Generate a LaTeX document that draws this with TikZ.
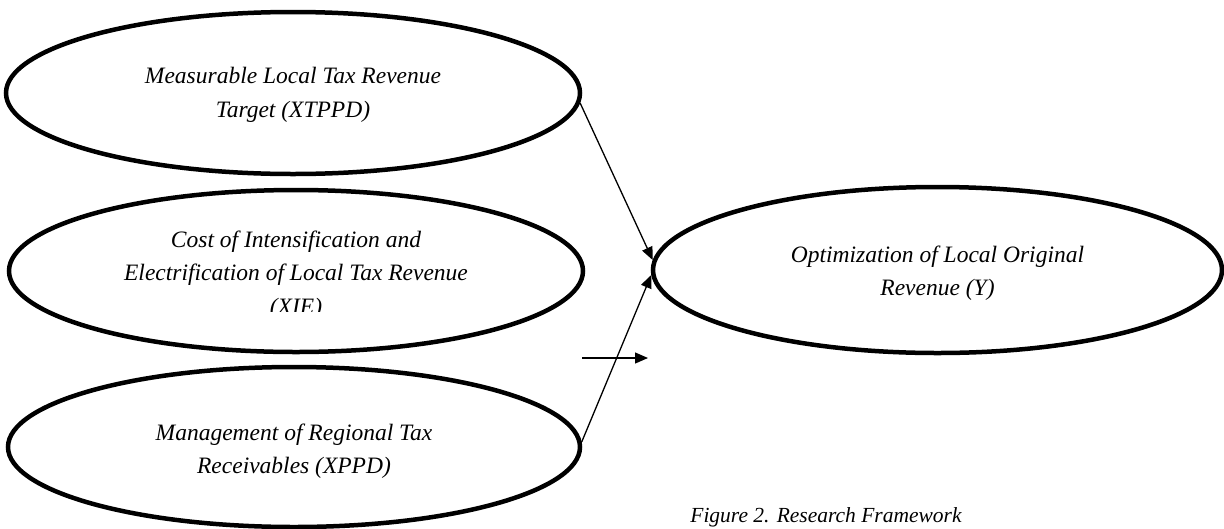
\documentclass[tikz,border=0pt]{standalone}
\usepackage{fontspec}
\setmainfont{Liberation Serif}
\usetikzlibrary{shapes.geometric,arrows.meta}
\begin{document}
\begin{tikzpicture}[x=1pt,y=-1pt,
  oval/.style={draw=black,line width=4.5pt,ellipse,inner sep=0pt},
  lbl/.style={align=center,font=\fontsize{23.5}{33.5}\selectfont\itshape,inner sep=0pt},
  conn/.style={line width=1.3pt,-{Triangle[length=13pt,width=11pt]}}]
\useasboundingbox[fill=white] (0,0) rectangle (1224,528);
\node[oval,minimum width=574pt,minimum height=162pt] (e1) at (293,93) {};
\node[oval,minimum width=574pt,minimum height=162pt] (e2) at (296,271) {};
\node[oval,minimum width=572pt,minimum height=160pt] (e3) at (294,447) {};
\node[oval,minimum width=569pt,minimum height=166pt] (y) at (937.5,270) {};
\node[lbl] (t1) at ([yshift=-2pt]e1) {Measurable Local Tax Revenue\\Target (XTPPD)};
\begin{scope}
\clip (0,190) rectangle (600,311);
\node[lbl] (t2) at ([yshift=-4pt]e2) {Cost of Intensification and\\Electrification of Local Tax Revenue\\(XIE)};
\end{scope}
\node[lbl] (t3) at ([yshift=-4pt]e3) {Management of Regional Tax\\Receivables (XPPD)};
\node[lbl] (ty) at ([yshift=-3pt]y) {Optimization of Local Original\\Revenue (Y)};
\draw[conn] (e1.-2) -- (y.178.5);
\draw[conn] (e3.1) -- (y.181);
\coordinate (h1) at (582,358);
\coordinate (h2) at (648,358);
\draw[conn] (h1) -- (h2);
\node[font=\fontsize{21.5}{26}\selectfont\itshape,anchor=north,inner sep=0pt] (cap) at (826,507) {Figure 2. Research Framework};
\end{tikzpicture}
\end{document}
